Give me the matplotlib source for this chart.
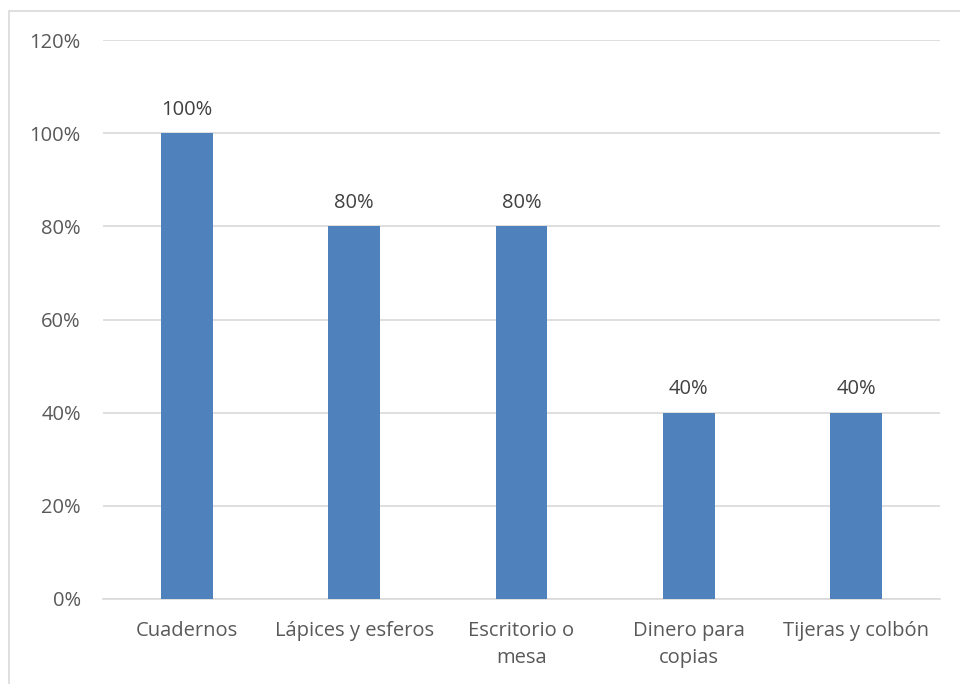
import matplotlib
matplotlib.use("Agg")
import matplotlib.pyplot as plt
from matplotlib.patches import Rectangle
from matplotlib.ticker import FuncFormatter

categories = ["Cuadernos", "Lápices y esferos", "Escritorio o\nmesa", "Dinero para\ncopias", "Tijeras y colbón"]
values = [100, 80, 80, 40, 40]
yticks = [0, 20, 40, 60, 80, 100, 120]

plt.rcParams['font.family'] = ['Open Sans', 'DejaVu Sans']
text_color = "#595959"
bar_color = "#4F81BD"
grid_color = "#D9D9D9"
fs = 14.5

fig = plt.figure(figsize=(9.6, 6.84), dpi=100)
ax = fig.add_axes([103/960, 1-599/684, (940-103)/960, (599-40)/684])

x = list(range(len(categories)))
bars = ax.bar(x, values, width=0.31, color=bar_color, zorder=3)
ax.set_xlim(-0.5, len(categories)-0.5)
ax.set_ylim(0, 120)
ax.set_yticks(yticks)
ax.yaxis.set_major_formatter(FuncFormatter(lambda v, p: f"{int(v)}%"))
ax.set_xticks(x)
ax.set_xticklabels(categories, linespacing=1.5)
ax.grid(axis='y', color=grid_color, linewidth=1.2, zorder=0)
for s in ['top', 'right', 'left']:
    ax.spines[s].set_visible(False)
ax.spines['bottom'].set_color(grid_color)
ax.spines['bottom'].set_linewidth(1.2)
ax.tick_params(axis='both', length=0, colors=text_color, labelsize=fs)
ax.tick_params(axis='y', pad=16)
ax.tick_params(axis='x', pad=15.5)
for t in ax.get_xticklabels() + ax.get_yticklabels():
    t.set_color(text_color)

for b, v in zip(bars, values):
    ax.annotate(f"{v}%", (b.get_x()+b.get_width()/2, v), xytext=(0, 9.5),
                textcoords='offset points', ha='center', va='bottom',
                fontsize=fs, color="#404040")

fig.patches.append(Rectangle((9/960, -0.1), 1.1, 1.1-11/684, transform=fig.transFigure,
                             fill=False, edgecolor="#D9D9D9", linewidth=1.2))
fig.savefig("out.png", dpi=100)
